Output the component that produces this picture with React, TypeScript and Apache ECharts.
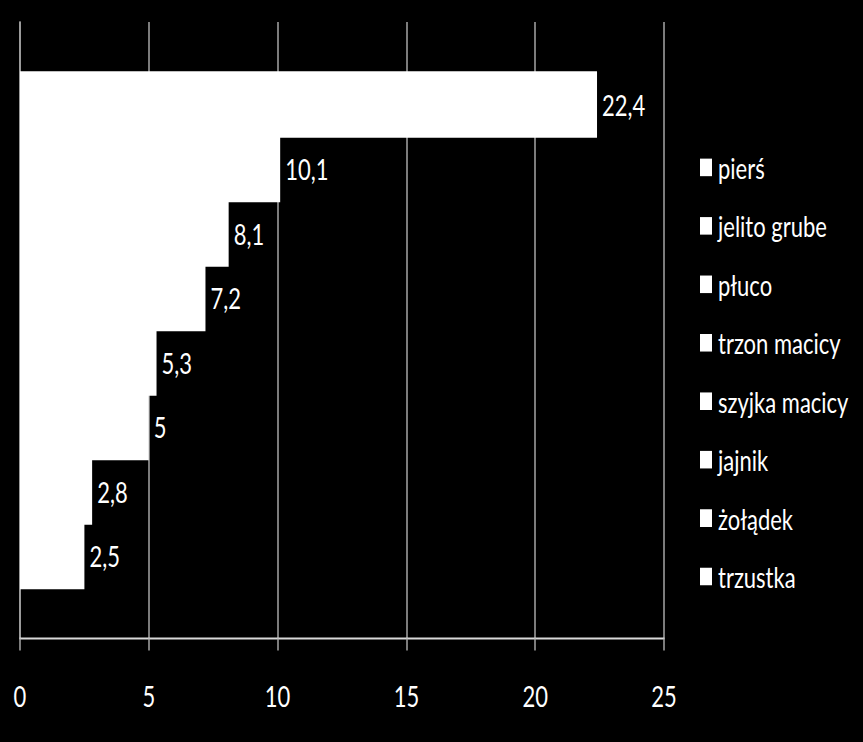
import React, { useEffect, useRef } from "react";
import * as echarts from "echarts";

const categories = ["pierś", "jelito grube", "płuco", "trzon macicy", "szyjka macicy", "jajnik", "żołądek", "trzustka"];
const values = [22.4, 10.1, 8.1, 7.2, 5.3, 5, 2.8, 2.5];
const xTicks = [0, 5, 10, 15, 20, 25];

const FONT = "Lato, 'Open Sans', sans-serif";
const S = 1.35; // vertical stretch of the whole picture (reference text is tall and narrow)
const W = 863;
const H = 742 / S;

export default function App() {
  const ref = useRef<HTMLDivElement>(null);
  useEffect(() => {
    if (!ref.current) return;
    const chart = echarts.init(ref.current, null, { renderer: "svg" });
    chart.setOption({
      animation: false,
      backgroundColor: "#000000",
      grid: { left: 20, right: 199, top: 22 / S, bottom: 104 / S, containLabel: false },
      legend: {
        orient: "vertical",
        left: 695,
        top: 108,
        itemWidth: 12,
        itemHeight: 13,
        itemGap: 21.3,
        icon: "rect",
        data: categories,
        textStyle: { color: "#ffffff", fontSize: 22, fontFamily: FONT, lineHeight: 22, padding: [0, 0, 0, 1] },
      },
      xAxis: {
        type: "value",
        min: xTicks[0],
        max: xTicks[xTicks.length - 1],
        interval: 5,
        axisLine: { show: true, lineStyle: { color: "#d9d9d9", width: 1.5 } },
        axisTick: { show: true, length: 12 / S, lineStyle: { color: "#a6a6a6", width: 1.5 } },
        axisLabel: { color: "#ffffff", fontSize: 22, fontFamily: FONT, margin: 31 },
        splitLine: { show: true, lineStyle: { color: "#a6a6a6", width: 1.5 } },
      },
      yAxis: {
        type: "category",
        data: [""],
        axisLine: { show: true, lineStyle: { color: "#a6a6a6", width: 1.5 } },
        axisTick: { show: false },
        axisLabel: { show: false },
      },
      series: categories.map((name, i) => ({
        name,
        type: "bar",
        data: [values[i]],
        barGap: "-3%",
        barCategoryGap: "16%",
        itemStyle: { color: "#ffffff" },
        label: {
          show: true,
          position: "right",
          distance: 5,
          color: "#ffffff",
          fontSize: 22,
          fontFamily: FONT,
          formatter: (p: any) => String(p.value).replace(".", ","),
        },
      })),
    });
    return () => chart.dispose();
  }, []);
  return (
    <div
      ref={ref}
      style={{
        position: "absolute",
        left: 0,
        top: 0,
        width: W,
        height: H,
        transform: `scaleY(${S})`,
        transformOrigin: "0 0",
        background: "#000000",
      }}
    />
  );
}
